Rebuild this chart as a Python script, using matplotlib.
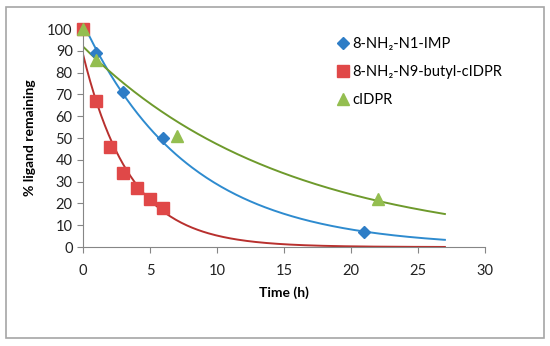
import matplotlib.pyplot as plt
import matplotlib.patches as patches
import numpy as np

plt.rcParams['font.family'] = ['Lato', 'DejaVu Sans']

# data
t_imp = [0, 1, 3, 6, 21]
y_imp = [100, 89, 71, 50, 7]
t_butyl = [0, 1, 2, 3, 4, 5, 6]
y_butyl = [100, 67, 46, 34, 27, 22, 18]
t_cidpr = [0, 1, 7, 22]
y_cidpr = [100, 86, 51, 22]

labels = ['8-NH₂-N1-IMP', '8-NH₂-N9-butyl-cIDPR', 'cIDPR']
marker_colors = ['#2E7DC6', '#E04848', '#94BE50']
line_colors = ['#2E8BCF', '#B8302E', '#6E9A2C']
markers = ['D', 's', '^']
sizes = [6, 8, 8]

fig = plt.figure(figsize=(5.5, 3.46), dpi=100)
ax = fig.add_axes([0.151, 0.286, 0.731, 0.630])

# frame round the whole chart
fig.patches.append(patches.Rectangle((0.011, 0.023), 0.978, 0.957, transform=fig.transFigure,
                                     fill=False, edgecolor='#A6A6A6', linewidth=1.2))

series = [(t_imp, y_imp), (t_butyl, y_butyl), (t_cidpr, y_cidpr)]
tt = np.linspace(0, 27, 200)
for i, (t, y) in enumerate(series):
    # exponential trendline like excel
    k, b = np.polyfit(t, np.log(y), 1)
    ax.plot(tt, np.exp(b) * np.exp(k * tt), color=line_colors[i], linewidth=1.4, zorder=2)
for i, (t, y) in enumerate(series):
    ax.plot(t, y, linestyle='none', marker=markers[i], markersize=sizes[i],
            color=marker_colors[i], label=labels[i], zorder=3, clip_on=False)

ax.set_xlim(0, 30)
ax.set_ylim(0, 100)
ax.set_xticks(range(0, 31, 5))
ax.set_yticks(range(0, 101, 10))
ax.spines['top'].set_visible(False)
ax.spines['right'].set_visible(False)
ax.spines['left'].set_color('#868686')
ax.spines['bottom'].set_color('#868686')
ax.tick_params(direction='out', length=4, color='#868686', labelsize=10.5, labelcolor='#222222')
ax.tick_params(axis='x', pad=8)
ax.set_xlabel('Time (h)', fontsize=10, fontweight='bold', labelpad=6)
ax.set_ylabel('% ligand remaining', fontsize=10, fontweight='bold', labelpad=8)

leg = ax.legend(loc='upper left', bbox_to_anchor=(0.615, 0.99), frameon=False, fontsize=10.5,
                handletextpad=0.1, handlelength=1.0, labelspacing=0.95, borderaxespad=0)

fig.savefig('out.png', dpi=100)
